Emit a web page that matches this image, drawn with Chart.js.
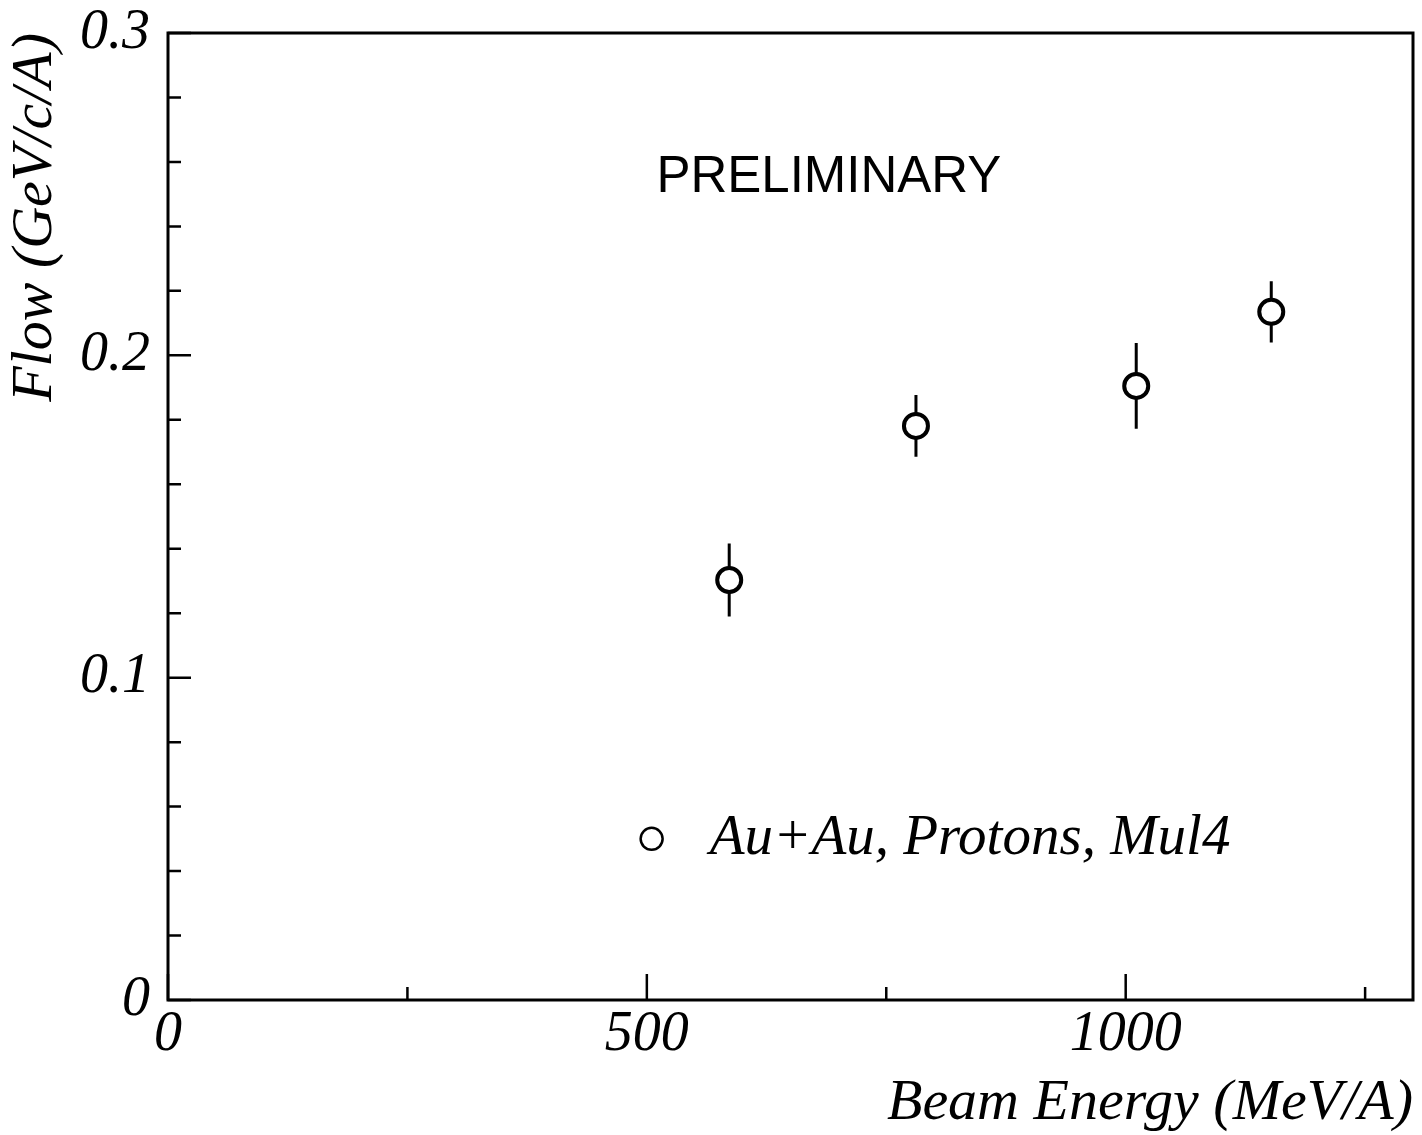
<!DOCTYPE html>
<html>
<head>
<meta charset="utf-8">
<script src="https://cdn.jsdelivr.net/npm/chart.js@4.4.1/dist/chart.umd.min.js"></script>
<style>
  html, body { margin: 0; padding: 0; background: #fff; }
  #wrap { width: 1422px; height: 1135px; }
</style>
</head>
<body>
<div id="wrap"><canvas id="flowChart" width="1422" height="1135"></canvas></div>
<script>
// values
const beamEnergy = [586, 781, 1011, 1152];          // MeV/A
const flow = [0.1303, 0.1781, 0.1905, 0.2135];      // GeV/c/A
const flowErr = [0.0113, 0.0096, 0.0133, 0.0095];

// tick positions (every one gets a tick mark, only the listed ones get a label)
const xTicks = [0, 250, 500, 750, 1000, 1250];
const yTicks = [0, 0.02, 0.04, 0.06, 0.08, 0.1, 0.12, 0.14, 0.16, 0.18, 0.2, 0.22, 0.24, 0.26, 0.28, 0.3];
const xTickLabels = [0, 500, 1000];
const yTickLabels = [0, 0.1, 0.2, 0.3];

const seriesLabel = 'Au+Au, Protons, Mul4';
const stampText = 'PRELIMINARY';

const serif = '"Liberation Serif", "Times New Roman", serif';
const sans = '"Liberation Sans", Arial, sans-serif';
const ink = '#000';

const isLabelled = (list, v) => list.some(t => Math.abs(t - v) < 1e-9);

// box around the plot with inward ticks
const framePlugin = {
  id: 'frame',
  afterDraw(chart) {
    const { ctx, chartArea: a, scales: { x, y } } = chart;
    ctx.save();
    ctx.strokeStyle = ink;
    ctx.lineWidth = 3;
    ctx.strokeRect(a.left, a.top, a.right - a.left, a.bottom - a.top);

    ctx.lineWidth = 2.5;
    ctx.beginPath();
    x.ticks.forEach(t => {
      const px = x.getPixelForValue(t.value);
      const len = isLabelled(xTickLabels, t.value) ? 26 : 13;
      ctx.moveTo(px, a.bottom);
      ctx.lineTo(px, a.bottom - len);
    });
    y.ticks.forEach(t => {
      const py = y.getPixelForValue(t.value);
      const len = isLabelled(yTickLabels, t.value) ? 23 : 13;
      ctx.moveTo(a.left, py);
      ctx.lineTo(a.left + len, py);
    });
    ctx.stroke();
    ctx.restore();
  }
};

// vertical error bars, drawn under the open circles
const errorBarPlugin = {
  id: 'errorBars',
  beforeDatasetsDraw(chart) {
    const { ctx, scales: { x, y } } = chart;
    ctx.save();
    ctx.strokeStyle = ink;
    ctx.lineWidth = 3;
    ctx.beginPath();
    beamEnergy.forEach((e, i) => {
      const px = x.getPixelForValue(e);
      ctx.moveTo(px, y.getPixelForValue(flow[i] + flowErr[i]));
      ctx.lineTo(px, y.getPixelForValue(flow[i] - flowErr[i]));
    });
    ctx.stroke();
    ctx.restore();
  }
};

// in-plot legend and the PRELIMINARY stamp
const notesPlugin = {
  id: 'notes',
  afterDatasetsDraw(chart) {
    const { ctx, scales: { x, y } } = chart;
    ctx.save();
    const mx = x.getPixelForValue(505);
    const my = y.getPixelForValue(0.05);
    ctx.strokeStyle = ink;
    ctx.lineWidth = 2.5;
    ctx.beginPath();
    ctx.arc(mx, my, 11, 0, Math.PI * 2);
    ctx.stroke();

    ctx.fillStyle = ink;
    ctx.textBaseline = 'middle';
    ctx.textAlign = 'left';
    ctx.font = 'italic 57px ' + serif;
    ctx.fillText(seriesLabel, mx + 58, my);

    ctx.font = '51px ' + sans;
    ctx.fillText(stampText, x.getPixelForValue(510), y.getPixelForValue(0.255));
    ctx.restore();
  }
};

// keep the plot box exactly where the layout padding puts it
function pinScale(scale, size) {
  if (scale.isHorizontal()) scale.height = size; else scale.width = size;
  scale.paddingTop = 0;
  scale.paddingBottom = 0;
  scale.paddingLeft = 0;
  scale.paddingRight = 0;
}

const tickFont = { family: serif, size: 56, style: 'italic', lineHeight: 1 };
const titleFont = { family: serif, size: 58, style: 'italic', lineHeight: 1 };

const ctx = document.getElementById('flowChart').getContext('2d');
new Chart(ctx, {
  type: 'scatter',
  data: {
    datasets: [{
      label: seriesLabel,
      data: beamEnergy.map((e, i) => ({ x: e, y: flow[i] })),
      pointStyle: 'circle',
      pointRadius: 12,
      pointBorderWidth: 4,
      pointBackgroundColor: '#fff',
      pointBorderColor: ink,
      showLine: false
    }]
  },
  options: {
    responsive: false,
    animation: false,
    devicePixelRatio: 1,
    layout: { autoPadding: false, padding: { top: 33, right: 9, left: 0, bottom: 0 } },
    plugins: {
      legend: { display: false },
      tooltip: { enabled: false }
    },
    scales: {
      x: {
        type: 'linear',
        min: 0,
        max: 1300,
        grid: { display: false, drawTicks: false },
        border: { display: false },
        afterBuildTicks(scale) { scale.ticks = xTicks.map(v => ({ value: v })); },
        ticks: {
          autoSkip: false,
          maxRotation: 0,
          padding: 7,
          color: ink,
          font: tickFont,
          callback: v => isLabelled(xTickLabels, v) ? String(v) : ''
        },
        title: {
          display: true,
          text: 'Beam Energy (MeV/A)',
          align: 'end',
          color: ink,
          font: titleFont,
          padding: { top: 0, bottom: 2 }
        },
        afterFit(scale) { pinScale(scale, 135); }
      },
      y: {
        type: 'linear',
        min: 0,
        max: 0.3,
        grid: { display: false, drawTicks: false },
        border: { display: false },
        afterBuildTicks(scale) { scale.ticks = yTicks.map(v => ({ value: v })); },
        ticks: {
          autoSkip: false,
          padding: 18,
          color: ink,
          font: tickFont,
          callback: v => isLabelled(yTickLabels, v) ? (v === 0 ? '0' : v.toFixed(1)) : ''
        },
        title: {
          display: true,
          text: 'Flow (GeV/c/A)',
          align: 'end',
          color: ink,
          font: titleFont,
          padding: { top: 7, bottom: 0 }
        },
        afterFit(scale) { pinScale(scale, 168); }
      }
    }
  },
  plugins: [framePlugin, errorBarPlugin, notesPlugin]
});
</script>
</body>
</html>
